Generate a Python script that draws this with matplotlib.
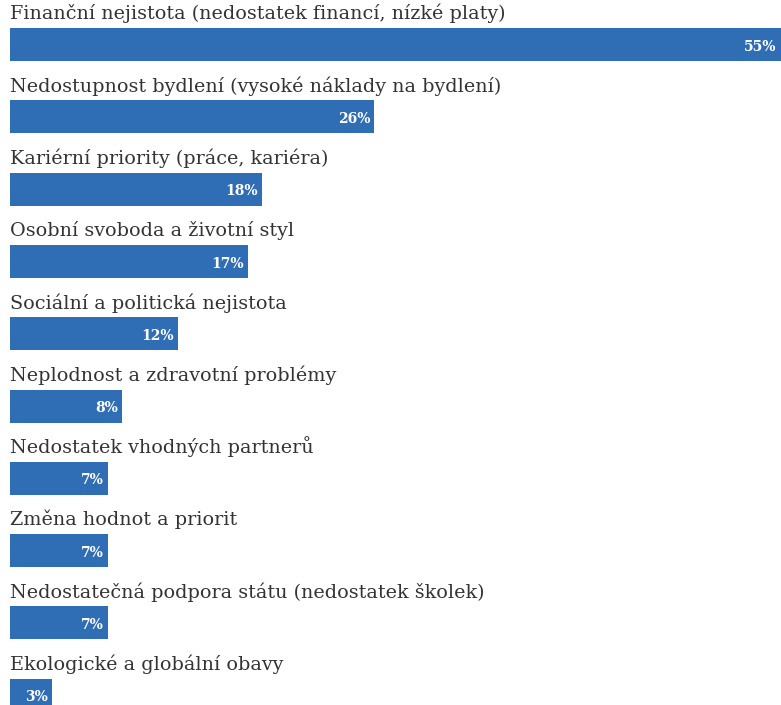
import matplotlib.pyplot as plt

categories = [
    "Finanční nejistota (nedostatek financí, nízké platy)",
    "Nedostupnost bydlení (vysoké náklady na bydlení)",
    "Kariérní priority (práce, kariéra)",
    "Osobní svoboda a životní styl",
    "Sociální a politická nejistota",
    "Neplodnost a zdravotní problémy",
    "Nedostatek vhodných partnerů",
    "Změna hodnot a priorit",
    "Nedostatečná podpora státu (nedostatek školek)",
    "Ekologické a globální obavy",
]
values = [55, 26, 18, 17, 12, 8, 7, 7, 7, 3]

W, H = 781, 705
fig = plt.figure(figsize=(W / 100, H / 100), dpi=100)
ax = fig.add_axes([10 / W, 0, 771 / W, 1])

step = 72.3          # pixels between bars
bar_h = 33 / step
top = 44.5 / step
ax.set_xlim(0, 55)
ax.set_ylim(H / step - top, -top)
ax.axis("off")

ypos = list(range(len(values)))
ax.barh(ypos, values, height=bar_h, color="#2f6db4")

for y, v, name in zip(ypos, values, categories):
    ax.text(0, y - bar_h / 2 - 0.12, name, ha="left", va="baseline",
            fontsize=13.8, family="DejaVu Serif", color="#333333")
    ax.text(v - 0.3, y + 0.03, f"{v}%", ha="right", va="center",
            fontsize=10, fontweight="bold", family="DejaVu Serif", color="white")

fig.savefig("out.png", dpi=100)
